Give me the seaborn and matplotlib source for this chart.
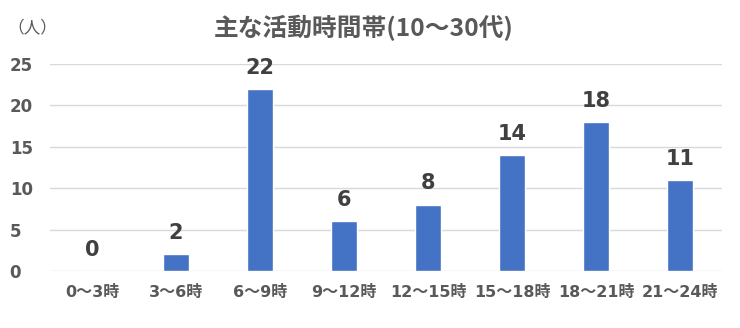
import matplotlib
matplotlib.use("Agg")
import matplotlib.pyplot as plt
import seaborn as sns
import pandas as pd

categories = ["0～3時", "3～6時", "6～9時", "9～12時", "12～15時", "15～18時", "18～21時", "21～24時"]
values = [0, 2, 22, 6, 8, 14, 18, 11]
yticks = [0, 5, 10, 15, 20, 25]
title = "主な活動時間帯(10～30代)"
unit_label = "（人）"

sns.set_theme(style="white")
fam = ['DejaVu Sans', 'Noto Sans CJK JP']
plt.rcParams['font.family'] = fam

df = pd.DataFrame({"cat": categories, "val": values})

fig = plt.figure(figsize=(7.4, 3.28), dpi=100)
ax = fig.add_axes([50/740, 1 - 271/328, 672/740, (271 - 64)/328])
sns.barplot(data=df, x="cat", y="val", color="#4472C4", width=0.31, ax=ax, saturation=1)

ax.set_ylim(0, 25)
ax.set_yticks(yticks)
ax.set_yticklabels([str(t) for t in yticks], fontsize=12, fontweight="bold", color="#595959")
ax.set_xlim(-0.5, len(categories) - 0.5)
ax.set_xlabel("")
ax.set_ylabel("")
ax.tick_params(axis="x", labelsize=11.5, colors="#595959", length=0, pad=10)
ax.tick_params(axis="y", length=0, pad=29)
for lbl in ax.get_xticklabels():
    lbl.set_fontweight("bold")
    lbl.set_family(['DejaVu Sans', 'Noto Sans CJK JP'])
for lbl in ax.get_yticklabels():
    lbl.set_horizontalalignment("left")
ax.yaxis.grid(True, color="#D9D9D9", linewidth=1)
ax.set_axisbelow(True)
for s in ax.spines.values():
    s.set_visible(False)

for i, v in enumerate(values):
    ax.annotate(str(v), xy=(i, v), xytext=(0, 11), textcoords="offset points",
                ha="center", va="baseline", fontsize=15, fontweight="bold",
                color="#404040", family="DejaVu Sans")

fig.text(364/740, 1 - 28/328, title, ha="center", va="center", fontsize=17.8,
         fontweight="bold", color="#595959", family=['Noto Sans CJK JP', 'DejaVu Sans'])
fig.text(7/740, 1 - 28/328, unit_label, ha="left", va="center", fontsize=12,
         color="#595959", family=['Noto Sans CJK JP', 'DejaVu Sans'])

fig.savefig("out.png", dpi=100, facecolor="white")
